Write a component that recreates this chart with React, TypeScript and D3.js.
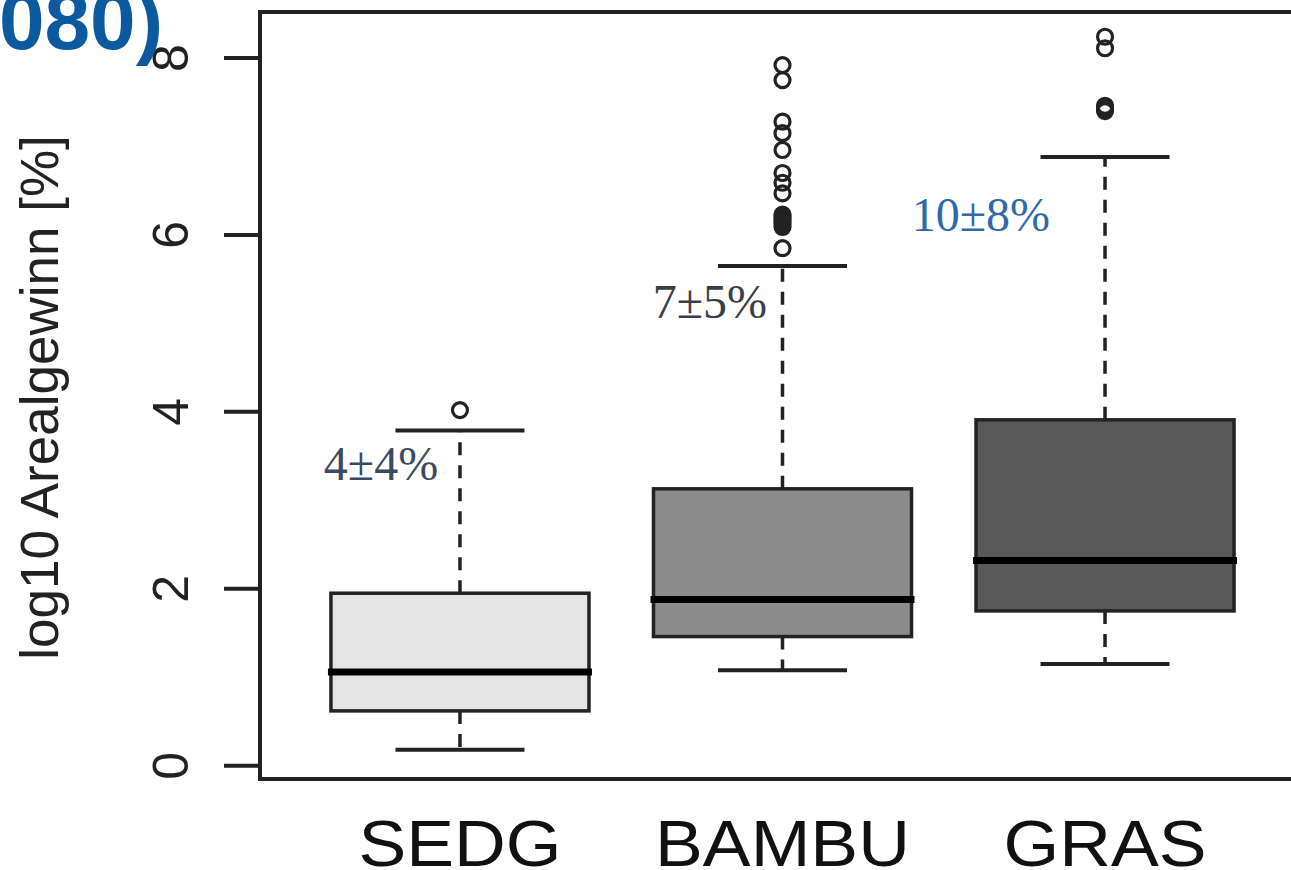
import React from "react";
import * as d3 from "d3";

// Categories and five-number summaries (log10 areal gain, %)
const categories = ["SEDG", "BAMBU", "GRAS"];
const whiskerLow = [0.18, 1.08, 1.15];
const q1 = [0.62, 1.46, 1.75];
const median = [1.06, 1.88, 2.32];
const q3 = [1.95, 3.13, 3.91];
const whiskerHigh = [3.79, 5.65, 6.88];

// Outlying observations per category
const outliersSEDG = [4.02];
const outliersBAMBU = [5.85, 6.09, 6.12, 6.15, 6.18, 6.2, 6.23, 6.47, 6.59, 6.7, 6.96, 7.15, 7.28, 7.75, 7.92];
const outliersGRAS = [7.4, 7.43, 7.46, 8.11, 8.24];
const outliers = [outliersSEDG, outliersBAMBU, outliersGRAS];

// Mean ± sd annotations
const annotations = ["4±4%", "7±5%", "10±8%"];

// Axis ticks
const yTicks = [0, 2, 4, 6, 8];

const W = 1291;
const H = 870;

const boxFills = ["#e4e4e4", "#8c8c8c", "#595959"];
const annotationColors = ["#3b4a62", "#3a3d4a", "#2d6aa6"];
// label anchors: [x offset from box centre in category units, y in data units]
const annotationAnchor: [number, number][] = [
  [-0.245, 3.23],
  [-0.225, 5.06],
  [-0.385, 6.05],
];

export default function App() {
  const x = d3.scaleLinear().domain([0.38, 3.62]).range([260, 1305]);
  const y = d3.scaleLinear().domain([-0.15, 8.52]).range([779, 12]);
  const step = x(2) - x(1);
  const boxW = step * 0.8;
  const capW = boxW / 2;
  const dark = "#222";

  return (
    <svg
      width={W}
      height={H}
      viewBox={`0 0 ${W} ${H}`}
      style={{ position: "absolute", left: 0, top: 0, background: "#fff" }}
    >
      <rect x={0} y={0} width={W} height={H} fill="#fff" />

      {/* y axis ticks and labels */}
      {yTicks.map((t) => (
        <g key={t}>
          <line x1={224} x2={260} y1={y(t)} y2={y(t)} stroke={dark} strokeWidth={4} />
          <text
            transform={`translate(188,${y(t)}) rotate(-90)`}
            textAnchor="middle"
            fontFamily="'Liberation Sans', Arial, sans-serif"
            fontSize={50}
            fill="#222"
          >
            {t}
          </text>
        </g>
      ))}

      {/* y axis title */}
      <text
        transform={`translate(58,${(12 + 779) / 2 + 2}) rotate(-90)`}
        textAnchor="middle"
        fontFamily="'Liberation Sans', Arial, sans-serif"
        fontSize={53}
        fill="#222"
      >
        log10 Arealgewinn [%]
      </text>

      {categories.map((c, i) => {
        const cx = x(i + 1);
        return (
          <g key={c}>
            {/* whiskers */}
            <line x1={cx} x2={cx} y1={y(q3[i])} y2={y(whiskerHigh[i])} stroke={dark} strokeWidth={3.5} strokeDasharray="13 10" />
            <line x1={cx} x2={cx} y1={y(q1[i])} y2={y(whiskerLow[i])} stroke={dark} strokeWidth={3.5} strokeDasharray="13 10" />
            <line x1={cx - capW / 2} x2={cx + capW / 2} y1={y(whiskerHigh[i])} y2={y(whiskerHigh[i])} stroke={dark} strokeWidth={4} />
            <line x1={cx - capW / 2} x2={cx + capW / 2} y1={y(whiskerLow[i])} y2={y(whiskerLow[i])} stroke={dark} strokeWidth={4} />
            {/* box */}
            <rect
              x={cx - boxW / 2}
              y={y(q3[i])}
              width={boxW}
              height={y(q1[i]) - y(q3[i])}
              fill={boxFills[i]}
              stroke={dark}
              strokeWidth={3.5}
            />
            {/* median */}
            <line x1={cx - boxW / 2 - 3} x2={cx + boxW / 2 + 3} y1={y(median[i])} y2={y(median[i])} stroke="#000" strokeWidth={7} />
            {/* outliers */}
            {outliers[i].map((v, k) => (
              <circle key={k} cx={cx} cy={y(v)} r={7.5} fill="none" stroke={dark} strokeWidth={3.2} />
            ))}
            {/* annotation */}
            <text
              x={x(i + 1 + annotationAnchor[i][0])}
              y={y(annotationAnchor[i][1])}
              textAnchor="middle"
              fontFamily="'Liberation Serif', 'Times New Roman', serif"
              fontSize={48}
              fill={annotationColors[i]}
            >
              {annotations[i]}
            </text>
            {/* category label */}
            <text
              transform={`translate(${cx},866) scale(1.12,1)`}
              textAnchor="middle"
              fontFamily="'Liberation Sans', Arial, sans-serif"
              fontSize={64}
              fill="#111"
            >
              {c}
            </text>
          </g>
        );
      })}

      {/* plot frame */}
      <rect x={260} y={12} width={1305 - 260} height={779 - 12} fill="none" stroke={dark} strokeWidth={4} />

      {/* title fragment */}
      <text
        x={163}
        y={49}
        textAnchor="end"
        fontFamily="'Liberation Sans', Arial, sans-serif"
        fontWeight="bold"
        fontSize={82}
        fill="#0b5aa0"
      >
        (2080)
      </text>
    </svg>
  );
}
